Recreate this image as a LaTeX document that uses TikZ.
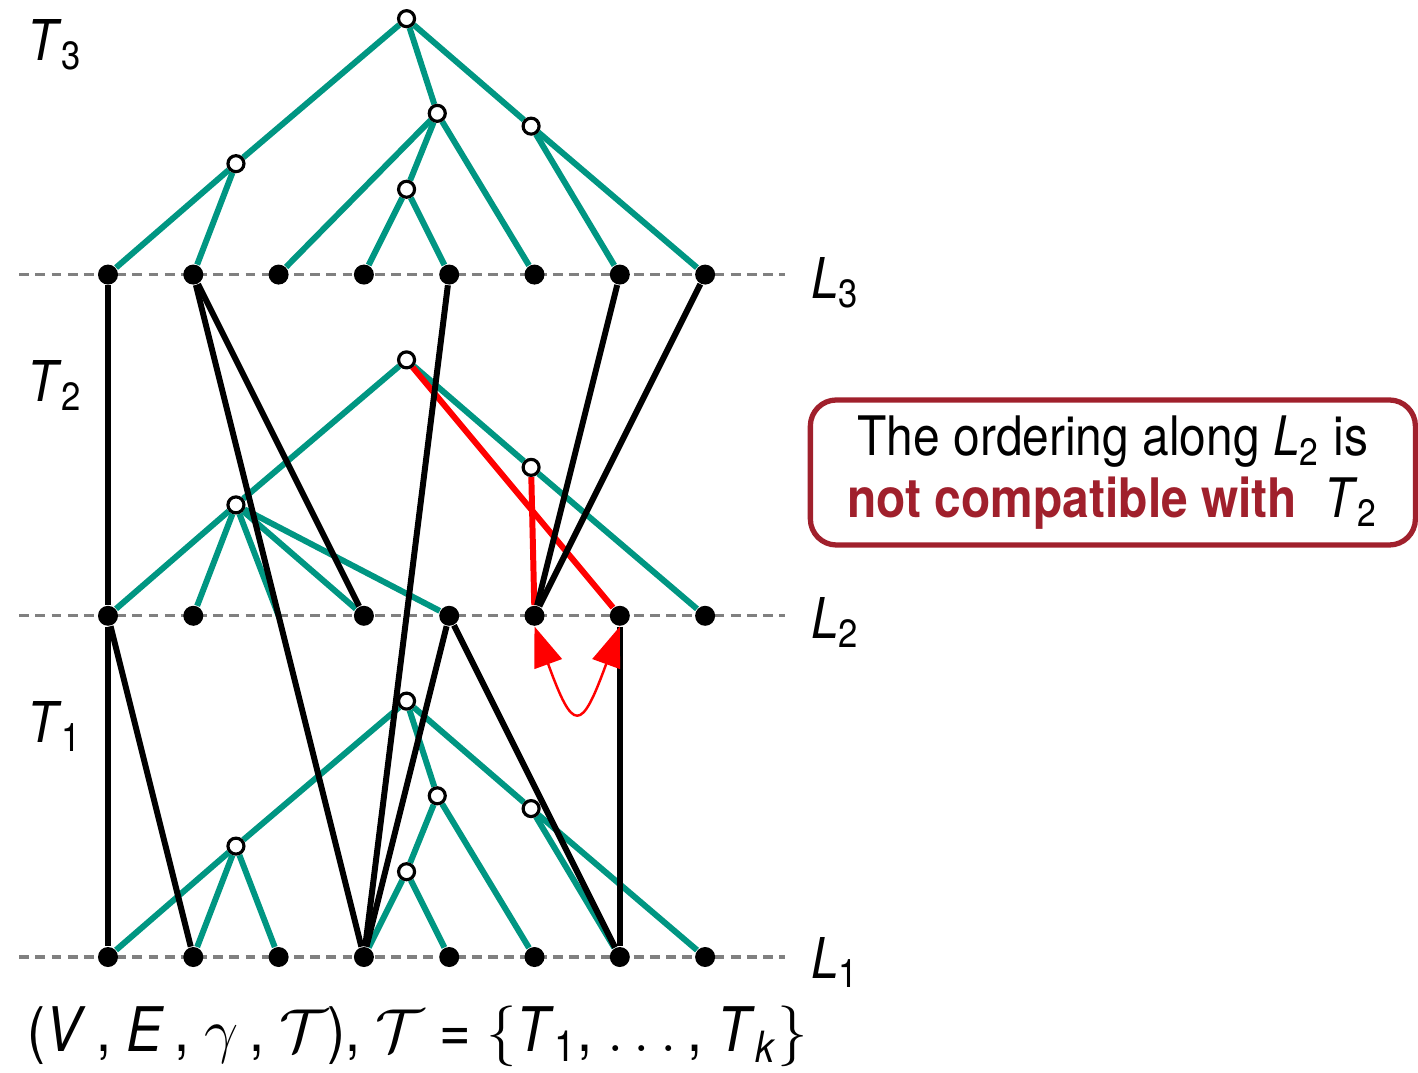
\documentclass[tikz,border=0pt]{standalone}
\usepackage{fontspec}
\setmainfont{TeX Gyre Heros}[FakeStretch=0.88]
\usepackage{tikz}
\usetikzlibrary{arrows.meta, backgrounds}
\definecolor{tree-teal}{HTML}{009682}
\definecolor{note-red}{HTML}{A0202C}
\definecolor{layer-gray}{HTML}{808080}

\begin{document}
\begin{tikzpicture}[
    x=0.853cm, y=0.853cm,
    leaf/.style={circle, fill=black, inner sep=0pt, minimum size=2mm},
    inner/.style={circle, draw=black, fill=white, line width=0.9pt, inner sep=0pt, minimum size=1.6mm},
    tedge/.style={tree-teal, line width=1.7pt},
    bedge/.style={black, line width=1.7pt},
    redge/.style={red, line width=1.7pt},
    layer/.style={layer-gray, line width=0.9pt, dash pattern=on 2.8pt off 1.8pt},
    lab/.style={font=\fontsize{16}{19}\selectfont},
    swap/.style={red, line width=0.7pt, {Triangle[length=4mm, width=2.9mm]}-{Triangle[length=4mm, width=2.9mm]}},
]
    \useasboundingbox (-1.266,-1.348) rectangle (15.357,11.219);

    % Layers
    \foreach \i in {0,...,7} \node[leaf] (p\i) at (\i,0) {};
    \foreach \i in {0,1,3,4,5,6,7} \node[leaf] (q\i) at (\i,4) {};
    \coordinate (q2) at (2,4);
    \foreach \i in {0,...,7} \node[leaf] (r\i) at (\i,8) {};

    % Tree T3
    \node[inner] (t3r) at (3.5,11) {};
    \node[inner] (t3a) at (1.5,9.3) {};
    \node[inner] (t3b) at (3.86,9.89) {};
    \node[inner] (t3c) at (3.5,9.0) {};
    \node[inner] (t3d) at (4.96,9.74) {};

    % Tree T2
    \node[inner] (t2r) at (3.5,7) {};
    \node[inner] (t2a) at (1.5,5.3) {};
    \node[inner] (t2d) at (4.96,5.74) {};

    % Tree T1
    \node[inner] (t1r) at (3.5,3) {};
    \node[inner] (t1a) at (1.5,1.3) {};
    \node[inner] (t1b) at (3.86,1.89) {};
    \node[inner] (t1c) at (3.5,1.0) {};
    \node[inner] (t1d) at (4.96,1.74) {};

    \begin{scope}[on background layer]
        \foreach \y in {0,4,8} \draw[layer] (-1.04,\y) -- (7.94,\y);

        \draw[tedge] (r0) -- (t3a) -- (t3r) -- (t3d) -- (r7);
        \draw[tedge] (t3a) -- (r1);
        \draw[tedge] (t3r) -- (t3b) -- (r2);
        \draw[tedge] (t3b) -- (t3c) -- (r3);
        \draw[tedge] (t3c) -- (r4);
        \draw[tedge] (t3b) -- (r5);
        \draw[tedge] (t3d) -- (r6);

        \draw[tedge] (q0) -- (t2a) -- (t2r) -- (t2d) -- (q7);
        \foreach \j in {1,2,3,4} \draw[tedge] (t2a) -- (q\j);

        \draw[tedge] (p0) -- (t1a) -- (t1r) -- (t1d) -- (p7);
        \draw[tedge] (t1a) -- (p1);
        \draw[tedge] (t1a) -- (p2);
        \draw[tedge] (t1r) -- (t1b) -- (p5);
        \draw[tedge] (t1b) -- (t1c) -- (p3);
        \draw[tedge] (t1c) -- (p4);
        \draw[tedge] (t1d) -- (p6);

        % Violating edges
        \draw[redge] (t2r) -- (q6);
        \draw[redge] (t2d) -- (q5);

        % Inter-layer edges
        \draw[bedge] (r0) -- (q0) -- (p0);
        \draw[bedge] (r1) -- (q3);
        \draw[bedge] (r1) -- (p3);
        \draw[bedge] (r4) -- (p3);
        \draw[bedge] (r6) -- (q5);
        \draw[bedge] (r7) -- (q5);
        \draw[bedge] (q0) -- (p1);
        \draw[bedge] (q4) -- (p3);
        \draw[bedge] (q4) -- (p6);
        \draw[bedge] (q6) -- (p6);
    \end{scope}

    \draw[swap] (q5.south) .. controls +(-70:1.33) and +(-110:1.33) .. (q6.south);

    % Labels
    \node[lab] (lt3) at (-0.62,10.69) {\textit{T}\textsubscript{3}};
    \node[lab] (lt2) at (-0.62,6.7) {\textit{T}\textsubscript{2}};
    \node[lab] (lt1) at (-0.62,2.7) {\textit{T}\textsubscript{1}};
    \node[lab] (ll3) at (8.53,7.9) {\textit{L}\textsubscript{3}};
    \node[lab] (ll2) at (8.53,3.92) {\textit{L}\textsubscript{2}};
    \node[lab] (ll1) at (8.53,-0.06) {\textit{L}\textsubscript{1}};

    \node[font=\fontsize{15.5}{17.5}\selectfont, draw=note-red, line width=1.5pt, rounded corners=2.6mm, align=center,
          minimum width=6.05cm, minimum height=1.45cm] (note) at (11.78,5.68)
        {The ordering along \textit{L}\textsubscript{2} is\\
         {\bfseries\color{note-red}not compatible with}\hspace{0.5em}\textit{T}\textsubscript{2}};

    \node[font=\fontsize{17.5}{21}\selectfont, anchor=west] (tuple) at (-1.09,-0.93)
        {(\textit{V}\,, \textit{E}\,, $\gamma$\,, $\mathcal{T}$), $\mathcal{T}$ = $\bigl\{$\textit{T}\textsubscript{1}, $\ldots$\,, \textit{T}\textsubscript{\textit{k}}$\bigr\}$};
\end{tikzpicture}
\end{document}
